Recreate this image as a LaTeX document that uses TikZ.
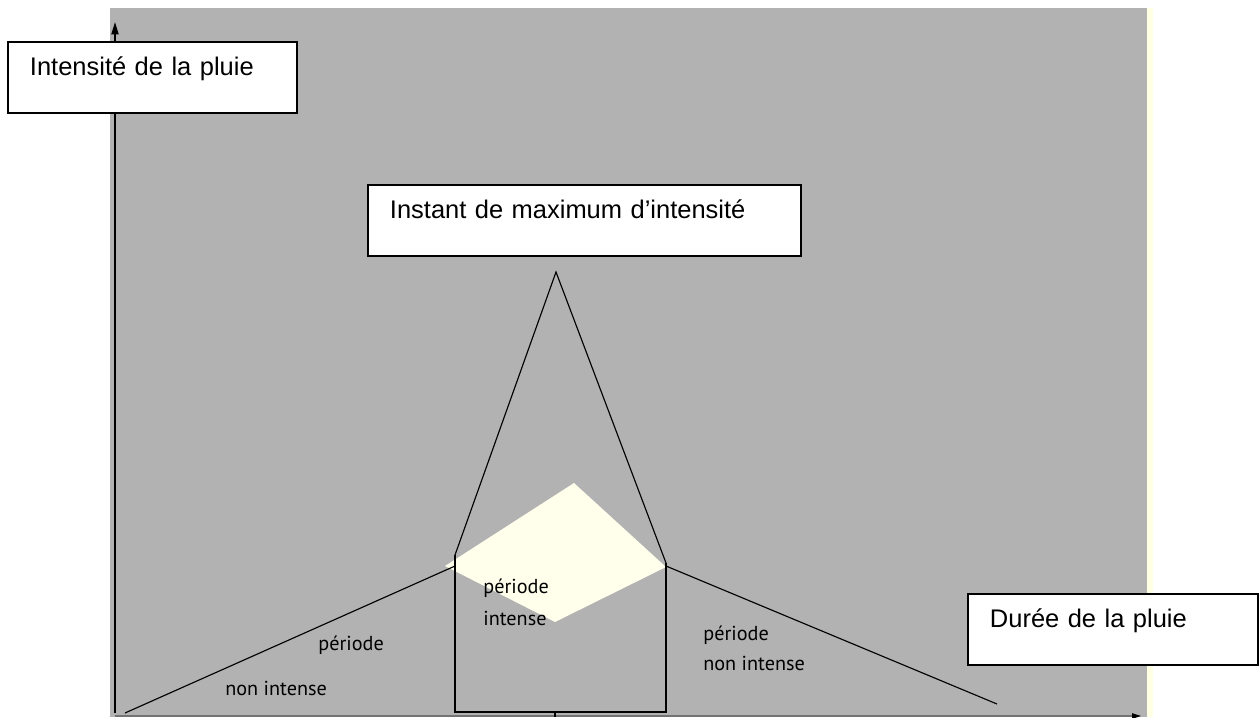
\documentclass[tikz,border=0pt]{standalone}
\usepackage{fontspec}
\setmainfont{Liberation Sans}
\newfontfamily\plotfont{PT Sans}
\usetikzlibrary{arrows.meta}
\definecolor{plotgray}{RGB}{178,178,178}
\definecolor{peakcream}{RGB}{255,255,236}
\definecolor{edgecream}{RGB}{255,255,228}

\begin{document}
\begin{tikzpicture}[x=0.02cm, y=-0.02cm,
		legendbox/.style={draw=black, line width=1.1pt, fill=white, anchor=north west, inner xsep=0.44cm, inner ysep=0pt, align=left, font=\fontsize{14.5}{17}\selectfont, text height=0.68cm, text depth=0.74cm},
		periodtext/.style={anchor=base west, inner sep=0pt, font=\plotfont\fontsize{11.5}{13}\selectfont},
		curve/.style={line width=0.65pt, black}]
		%%%%% START %%%%%
		
		\useasboundingbox (0,0) rectangle (1260,717);
		\fill[plotgray] (110,8) rectangle (1147,717);
		\fill[edgecream] (1147,8) rectangle (1153,717);
		
		\coordinate (origin) at (115,713);
		\coordinate (ytip) at (115,22);
		\coordinate (xstart) at (115,716);
		\coordinate (xtip) at (1141,716);
		
		\coordinate (peak) at (556,272);
		\coordinate (intenseL) at (455,555);
		\coordinate (intenseR) at (666,563);
		\coordinate (baseL) at (455,712);
		\coordinate (baseR) at (666,712);
		\coordinate (riseStart) at (125,713);
		\coordinate (riseEnd) at (455,566);
		\coordinate (fallStart) at (666,566);
		\coordinate (fallEnd) at (997,704);
		
		\coordinate (topD) at (574,483);
		\coordinate (leftD) at (445,566);
		\coordinate (bottomD) at (555,622);
		\coordinate (rightD) at (666,567);
		
		\fill[peakcream] (topD) -- (rightD) -- (bottomD) -- (leftD) -- cycle;
		
		\draw[curve] (intenseL) -- (peak) -- (intenseR);
		\draw[curve] (intenseL) -- (baseL) -- (baseR) -- (intenseR);
		\draw[curve] (riseStart) -- (riseEnd);
		\draw[curve] (fallStart) -- (fallEnd);
		
		\draw[line width=1pt, -{Triangle[length=7pt,width=4pt]}] (origin) -- (ytip);
		\draw[line width=0.6pt, black!55, -{Triangle[black,length=5pt,width=3pt]}] (xstart) -- (xtip);
		\draw[line width=0.6pt] (555,713) -- (555,717);
		
		\node[periodtext] (riseA) at (318,650) {période};
		\node[periodtext] (riseB) at (225,695) {non intense};
		\node[periodtext] (peakA) at (483,593) {période};
		\node[periodtext] (peakB) at (483,625) {intense};
		\node[periodtext] (fallA) at (703,640) {période};
		\node[periodtext] (fallB) at (703,670) {non intense};
		
		\node[legendbox, text width=4.90cm] (intensity) at (7,41) {Intensité de la pluie};
		\node[legendbox, text width=7.78cm] (maximum) at (367,184) {Instant de maximum d’intensité};
		\node[legendbox, text width=4.92cm] (duration) at (967,593) {Durée de la pluie};
		
		%%%%% END %%%%%
\end{tikzpicture}
\end{document}
